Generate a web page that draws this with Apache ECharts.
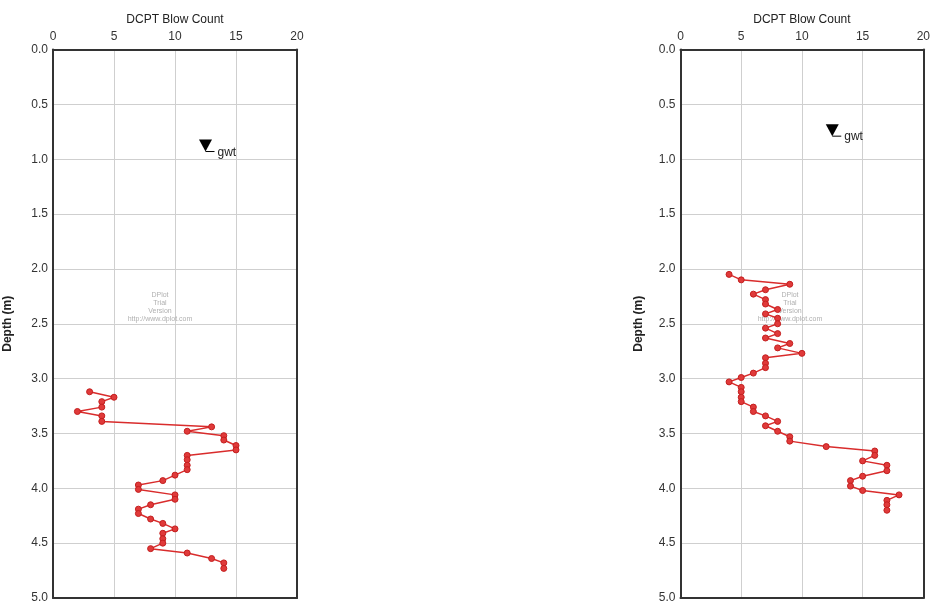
<!DOCTYPE html>
<html>
<head>
<meta charset="utf-8">
<script src="https://cdn.jsdelivr.net/npm/echarts@6/dist/echarts.min.js"></script>
<style>html,body{margin:0;padding:0;background:#fff;overflow:hidden;}#c{width:933px;height:604px;}</style>
</head>
<body>
<div id="c"></div>
<script>
const xTitle = 'DCPT Blow Count';
const yTitle = 'Depth (m)';
const leftDepth = [3.12,3.17,3.21,3.26,3.30,3.34,3.39,3.44,3.48,3.52,3.56,3.61,3.65,3.70,3.74,3.79,3.83,3.88,3.93,3.97,4.01,4.06,4.10,4.15,4.19,4.23,4.28,4.32,4.37,4.41,4.46,4.50,4.55,4.59,4.64,4.68,4.73];
const leftBlows = [3,5,4,4,2,4,4,13,11,14,14,15,15,11,11,11,11,10,9,7,7,10,10,8,7,7,8,9,10,9,9,9,8,11,13,14,14];
const rightDepth = [2.05,2.10,2.14,2.19,2.23,2.28,2.32,2.37,2.41,2.45,2.50,2.54,2.59,2.63,2.68,2.72,2.77,2.81,2.86,2.90,2.95,2.99,3.03,3.08,3.12,3.17,3.21,3.26,3.30,3.34,3.39,3.43,3.48,3.53,3.57,3.62,3.66,3.70,3.75,3.79,3.84,3.89,3.93,3.98,4.02,4.06,4.11,4.15,4.20];
const rightBlows = [4,5,9,7,6,7,7,8,7,8,8,7,8,7,9,8,10,7,7,7,6,5,4,5,5,5,5,6,6,7,8,7,8,9,9,12,16,16,15,17,17,15,14,14,15,18,17,17,17];
const gwtLeft = [12.5, 0.93];
const gwtRight = [12.5, 0.79];
const gwtLabel = 'gwt';
const watermark = 'DPlot\nTrial\nVersion\nhttp://www.dplot.com';

const FONT = 'Liberation Sans, Arial, sans-serif';
const FRAME = { show: true, onZero: false, lineStyle: { color: '#333', width: 2 } };
function zip(a, b) { return a.map((v, i) => [v, b[i]]); }

function xAxisCfg(gi) {
  return {
    type: 'value', gridIndex: gi, position: 'top', min: 0, max: 20, interval: 5,
    name: xTitle, nameLocation: 'middle', nameGap: 22,
    nameTextStyle: { fontFamily: FONT, fontSize: 12, color: '#222' },
    axisLine: FRAME, axisTick: { show: false },
    axisLabel: { margin: 7, fontFamily: FONT, fontSize: 12, color: '#333' },
    splitLine: { show: true, lineStyle: { color: '#cfcfcf', width: 1 } }
  };
}
function xFrameCfg(gi) {
  return { type: 'value', gridIndex: gi, position: 'bottom', min: 0, max: 20, interval: 5,
    axisLine: FRAME, axisTick: { show: false }, axisLabel: { show: false }, splitLine: { show: false } };
}
function yAxisCfg(gi, gap) {
  return {
    type: 'value', gridIndex: gi, position: 'left', inverse: true, min: 0, max: 5, interval: 0.5,
    name: yTitle, nameLocation: 'middle', nameGap: gap, nameRotate: 90,
    nameTextStyle: { fontFamily: FONT, fontSize: 12, fontWeight: 'bold', color: '#222' },
    axisLine: FRAME, axisTick: { show: false },
    axisLabel: { margin: 5, fontFamily: FONT, fontSize: 12, color: '#333',
      formatter: v => v.toFixed(1) },
    splitLine: { show: true, lineStyle: { color: '#cfcfcf', width: 1 } }
  };
}
function yFrameCfg(gi) {
  return { type: 'value', gridIndex: gi, position: 'right', inverse: true, min: 0, max: 5, interval: 0.5,
    axisLine: FRAME, axisTick: { show: false }, axisLabel: { show: false }, splitLine: { show: false } };
}
function lineSeries(gi, xs, ys) {
  return {
    type: 'line', xAxisIndex: gi, yAxisIndex: gi, data: zip(xs, ys),
    symbol: 'circle', symbolSize: 6, showSymbol: true, animation: false,
    lineStyle: { color: '#d92c2c', width: 1.5 },
    itemStyle: { color: '#e03a3a', borderColor: '#c41f1f', borderWidth: 1 },
    z: 5
  };
}
function gwtSeries(gi, pt) {
  return {
    type: 'custom', xAxisIndex: gi, yAxisIndex: gi, data: [pt], animation: false, z: 6,
    renderItem: function (params, api) {
      const c = api.coord([api.value(0), api.value(1)]);
      const cx = c[0], cy = c[1];
      return {
        type: 'group',
        children: [
          { type: 'polygon', shape: { points: [[cx - 6.5, cy - 12], [cx + 6.5, cy - 12], [cx, cy]] },
            style: { fill: '#000' } },
          { type: 'line', shape: { x1: cx, y1: cy, x2: cx + 9, y2: cy },
            style: { stroke: '#000', lineWidth: 1 } },
          { type: 'text', x: cx + 12, y: cy + 1,
            style: { text: gwtLabel, fontFamily: FONT, fontSize: 12, fill: '#222',
              verticalAlign: 'middle', align: 'left' } }
        ]
      };
    }
  };
}

const chart = echarts.init(document.getElementById('c'), null, { renderer: 'canvas' });
chart.setOption({
  backgroundColor: '#fff',
  animation: false,
  grid: [
    { left: 53, right: 636, top: 49.5, bottom: 2.5 },
    { left: 680.5, right: 6.5, top: 49.5, bottom: 2.5 }
  ],
  xAxis: [xAxisCfg(0), xAxisCfg(1), xFrameCfg(0), xFrameCfg(1)],
  yAxis: [yAxisCfg(0, 39), yAxisCfg(1, 36), yFrameCfg(0), yFrameCfg(1)],
  series: [
    lineSeries(0, leftBlows, leftDepth),
    lineSeries(1, rightBlows, rightDepth),
    gwtSeries(0, gwtLeft),
    gwtSeries(1, gwtRight)
  ],
  graphic: [
    { type: 'text', x: 160, y: 291, style: { text: watermark, fontFamily: FONT, fontSize: 7, lineHeight: 8, fill: '#b0b0b0', align: 'center' }, z: 1 },
    { type: 'text', x: 790, y: 291, style: { text: watermark, fontFamily: FONT, fontSize: 7, lineHeight: 8, fill: '#b0b0b0', align: 'center' }, z: 1 }
  ]
});
</script>
</body>
</html>
